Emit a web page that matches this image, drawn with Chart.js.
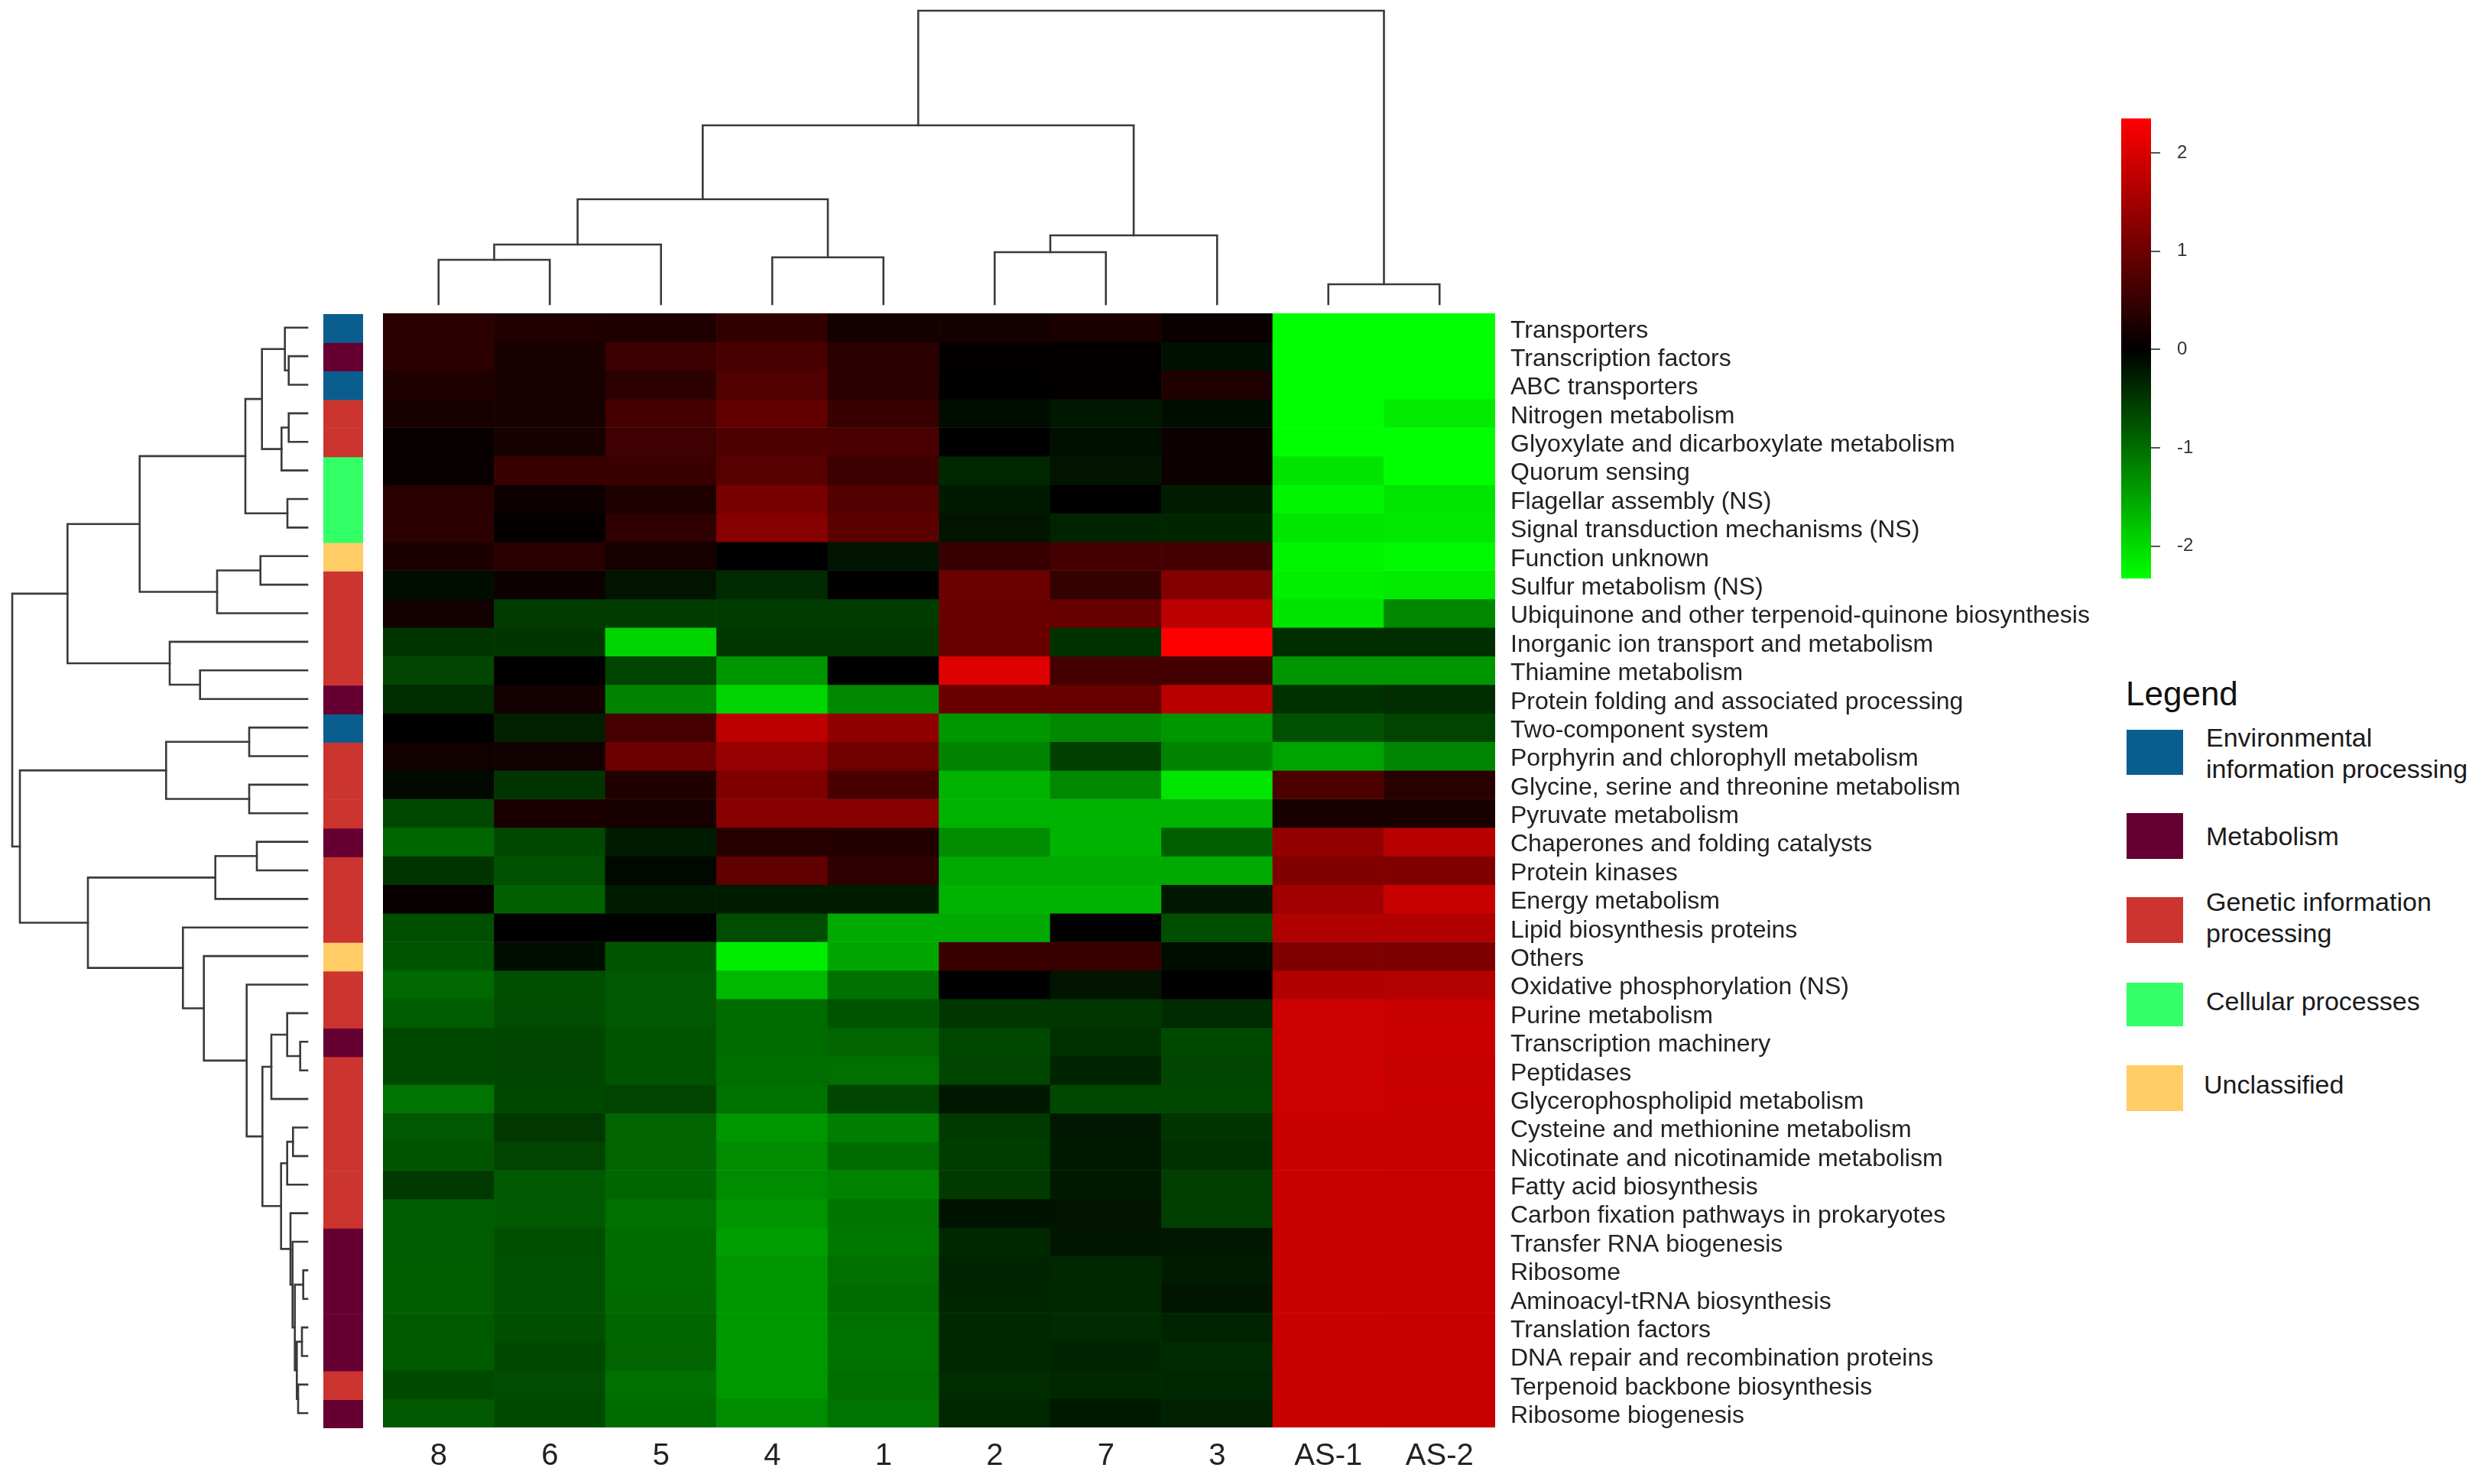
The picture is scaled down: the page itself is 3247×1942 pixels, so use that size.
<!DOCTYPE html>
<html>
<head>
<meta charset="utf-8">
<script src="https://cdn.jsdelivr.net/npm/chart.js@4.4.1/dist/chart.umd.min.js"></script>
<style>
html,body{margin:0;padding:0;background:#fff;}
body{width:3247px;height:1942px;position:relative;overflow:hidden;font-family:"Liberation Sans",Arial,sans-serif;}
canvas{position:absolute;}
.sq{position:absolute;left:2782px;width:74px;}
.lt{position:absolute;left:2886px;font-size:34px;color:#1a1a1a;white-space:nowrap;line-height:41px;}
</style>
</head>
<body>
<canvas id="topDendro" width="1455" height="400" style="left:501px;top:0px"></canvas>
<canvas id="leftDendro" width="404" height="1458" style="left:0px;top:410px"></canvas>
<canvas id="strip" width="52" height="1458" style="left:423px;top:411px"></canvas>
<canvas id="heat" width="2260" height="1532" style="left:501px;top:410px"></canvas>
<canvas id="cbar" width="140" height="640" style="left:2775px;top:140px"></canvas>
<div id="legend"></div>
<script>
// ---------------- data ----------------
const columnLabels = ['8','6','5','4','1','2','7','3','AS-1','AS-2'];
const rowLabels = [
  'Transporters','Transcription factors','ABC transporters','Nitrogen metabolism',
  'Glyoxylate and dicarboxylate metabolism','Quorum sensing','Flagellar assembly (NS)',
  'Signal transduction mechanisms (NS)','Function unknown','Sulfur metabolism (NS)',
  'Ubiquinone and other terpenoid-quinone biosynthesis','Inorganic ion transport and metabolism',
  'Thiamine metabolism','Protein folding and associated processing','Two-component system',
  'Porphyrin and chlorophyll metabolism','Glycine, serine and threonine metabolism',
  'Pyruvate metabolism','Chaperones and folding catalysts','Protein kinases','Energy metabolism',
  'Lipid biosynthesis proteins','Others','Oxidative phosphorylation (NS)','Purine metabolism',
  'Transcription machinery','Peptidases','Glycerophospholipid metabolism',
  'Cysteine and methionine metabolism','Nicotinate and nicotinamide metabolism',
  'Fatty acid biosynthesis','Carbon fixation pathways in prokaryotes','Transfer RNA biogenesis',
  'Ribosome','Aminoacyl-tRNA biosynthesis','Translation factors',
  'DNA repair and recombination proteins','Terpenoid backbone biosynthesis','Ribosome biogenesis'
];
const categoryNames = ['Environmental\ninformation processing','Metabolism','Genetic information\nprocessing','Cellular processes','Unclassified'];
const categoryColors = ['#0A5E8F','#660033','#CC3430','#33FF66','#FFCC66'];
const rowCategory = [0,1,0,2,2,3,3,3,4,2,2,2,2,1,0,2,2,2,1,2,2,2,4,2,2,1,2,2,2,2,2,2,1,1,1,1,1,2,1];

// z-scores, columns in order of columnLabels
const zScores = [
  [ 0.38, 0.29, 0.27, 0.47, 0.18, 0.18, 0.24, 0.09,-2.33,-2.33],
  [ 0.38, 0.22, 0.55, 0.66, 0.38, 0.05, 0.05,-0.15,-2.33,-2.33],
  [ 0.27, 0.22, 0.40, 0.75, 0.38, 0.00, 0.05, 0.27,-2.33,-2.33],
  [ 0.22, 0.22, 0.62, 0.90, 0.51,-0.11,-0.22,-0.13,-2.33,-2.15],
  [ 0.07, 0.20, 0.57, 0.69, 0.68, 0.00,-0.15, 0.11,-2.33,-2.33],
  [ 0.07, 0.53, 0.53, 0.79, 0.55,-0.37,-0.18, 0.11,-2.08,-2.33],
  [ 0.38, 0.11, 0.27, 1.11, 0.75,-0.24, 0.00,-0.26,-2.24,-2.10],
  [ 0.38, 0.04, 0.42, 1.22, 0.82,-0.18,-0.33,-0.35,-2.10,-2.12],
  [ 0.26, 0.37, 0.20, 0.00,-0.18, 0.51, 0.62, 0.62,-2.24,-2.28],
  [-0.11, 0.11,-0.18,-0.38, 0.00, 0.97, 0.48, 1.19,-2.19,-2.15],
  [ 0.16,-0.55,-0.55,-0.55,-0.55, 0.95, 0.93, 1.70,-2.08,-1.24],
  [-0.48,-0.48,-1.94,-0.49,-0.49, 0.95,-0.46, 2.33,-0.42,-0.42],
  [-0.64, 0.00,-0.64,-1.37, 0.00, 2.01, 0.62, 0.60,-1.37,-1.37],
  [-0.40, 0.18,-1.21,-1.94,-1.24, 0.95, 0.95, 1.68,-0.46,-0.40],
  [ 0.00,-0.29, 0.64, 1.72, 1.32,-1.37,-1.24,-1.37,-0.73,-0.62],
  [ 0.15, 0.15, 0.99, 1.37, 1.02,-1.21,-0.58,-1.21,-1.50,-1.22],
  [-0.07,-0.48, 0.29, 1.17, 0.68,-1.64,-1.24,-2.10, 0.69, 0.37],
  [-0.66, 0.24, 0.20, 1.24, 1.24,-1.64,-1.64,-1.64, 0.22, 0.22],
  [-0.93,-0.66,-0.26, 0.35, 0.31,-1.28,-1.64,-0.88, 1.35, 1.68],
  [-0.48,-0.73,-0.07, 0.88, 0.42,-1.55,-1.55,-1.55, 1.17, 1.17],
  [ 0.07,-0.88,-0.26,-0.26,-0.26,-1.64,-1.64,-0.22, 1.46, 1.83],
  [-0.71, 0.00, 0.00,-0.69,-1.55,-1.55, 0.00,-0.71, 1.61, 1.61],
  [-0.79,-0.13,-0.79,-2.17,-1.52, 0.53, 0.51,-0.13, 1.17, 1.13],
  [-0.95,-0.71,-0.80,-1.68,-1.02, 0.00,-0.18, 0.00, 1.61, 1.64],
  [-0.84,-0.69,-0.80,-0.99,-0.77,-0.49,-0.49,-0.38, 1.86, 1.83],
  [-0.66,-0.64,-0.77,-0.99,-0.91,-0.66,-0.44,-0.68, 1.86, 1.85],
  [-0.66,-0.64,-0.77,-1.01,-1.02,-0.64,-0.33,-0.64, 1.86, 1.81],
  [-1.06,-0.66,-0.62,-1.04,-0.64,-0.22,-0.66,-0.66, 1.86, 1.85],
  [-0.80,-0.51,-0.91,-1.37,-1.15,-0.53,-0.22,-0.48, 1.83, 1.81],
  [-0.77,-0.62,-0.91,-1.28,-0.99,-0.57,-0.24,-0.44, 1.83, 1.81],
  [-0.53,-0.80,-0.93,-1.28,-1.21,-0.53,-0.24,-0.58, 1.83, 1.81],
  [-0.84,-0.80,-1.02,-1.35,-1.08,-0.16,-0.18,-0.58, 1.83, 1.81],
  [-0.84,-0.71,-0.99,-1.44,-1.10,-0.37,-0.20,-0.22, 1.83, 1.81],
  [-0.86,-0.73,-0.99,-1.37,-1.02,-0.33,-0.37,-0.26, 1.83, 1.81],
  [-0.86,-0.73,-0.97,-1.37,-0.99,-0.35,-0.37,-0.20, 1.83, 1.81],
  [-0.82,-0.71,-0.93,-1.39,-1.04,-0.37,-0.38,-0.33, 1.83, 1.81],
  [-0.82,-0.66,-0.91,-1.39,-1.04,-0.37,-0.33,-0.38, 1.83, 1.81],
  [-0.68,-0.69,-1.02,-1.39,-1.01,-0.40,-0.37,-0.37, 1.83, 1.81],
  [-0.80,-0.68,-0.99,-1.28,-1.06,-0.37,-0.24,-0.31, 1.83, 1.81]
];

// dendrogram merges: [childA, childB, height]; children < nLeaves are leaves, else node (nLeaves + merge index)
const columnMerges = [
  [0,1,1.45],[10,2,1.95],[3,4,1.53],[11,12,3.43],[5,6,1.70],[14,7,2.25],[13,15,5.85],[8,9,0.65],[16,17,9.6]
];
const rowMerges = [
  [1,2,2.43],[0,39,2.93],[3,4,2.43],[41,5,3.37],[40,42,5.93],[6,7,2.60],[43,44,8.10],
  [8,9,6.13],[46,10,11.8],[45,47,21.93],[12,13,14.03],[11,49,18.0],[48,50,31.37],
  [14,15,7.6],[16,17,7.6],[52,53,18.47],[18,19,6.6],[55,20,12.03],
  [25,26,0.93],[24,57,2.63],[58,27,4.7],[28,29,1.87],[60,30,2.63],
  [33,34,0.53],[35,36,0.70],[37,38,1.20],[63,64,1.37],[62,65,1.63],[32,66,1.93],[31,67,2.20],
  [61,68,3.43],[59,69,5.87],[23,70,7.93],[22,71,13.53],[21,72,16.27],[56,73,28.7],[54,74,37.6],[51,75,38.6]
];
const colorbarTicks = [2,1,0,-1,-2];
const colorMin = -2.33, colorMax = 2.35, colorSat = 2.33;

// ---------------- helpers ----------------
const FONT = '"Liberation Sans", Arial, sans-serif';
Chart.defaults.font.family = FONT;
function zColor(v){
  const c = Math.round(Math.min(1, Math.abs(v)/colorSat)*255);
  return v >= 0 ? `rgb(${c},0,0)` : `rgb(0,${c},0)`;
}
function dendroSegments(merges, nLeaves){
  const pos = [], ht = [];
  for (let i=0;i<nLeaves;i++){ pos.push(i+0.5); ht.push(0); }
  const segs = [];
  merges.forEach(([a,b,h]) => {
    segs.push([[pos[a],ht[a]],[pos[a],h],[pos[b],h],[pos[b],ht[b]]]);
    pos.push((pos[a]+pos[b])/2); ht.push(h);
  });
  return segs;
}
const lineStyle = {borderColor:'#3a3a3a', borderWidth:2.6, pointRadius:0, tension:0, fill:false,
  borderJoinStyle:'miter', borderCapStyle:'square', clip:false, spanGaps:false};
const noPlugins = {legend:{display:false}, tooltip:{enabled:false}};
const base = {responsive:false, animation:false, devicePixelRatio:1, events:[]};

// ---------------- top dendrogram ----------------
const topSegs = dendroSegments(columnMerges, columnLabels.length);
const topRoot = columnMerges[columnMerges.length-1][2];
new Chart(document.getElementById('topDendro'), {
  type:'line',
  data:{datasets: topSegs.map(s => Object.assign({data: s.map(p => ({x:p[0], y:p[1]}))}, lineStyle))},
  options:Object.assign({}, base, {
    layout:{padding:{top:14, bottom:2, left:0, right:0}},
    plugins:noPlugins,
    scales:{
      x:{type:'linear', min:0, max:columnLabels.length, display:false},
      y:{type:'linear', min:0, max:topRoot, display:false}
    }
  })
});

// ---------------- left dendrogram ----------------
const leftSegs = dendroSegments(rowMerges, rowLabels.length);
const leftRoot = rowMerges[rowMerges.length-1][2];
new Chart(document.getElementById('leftDendro'), {
  type:'line',
  data:{datasets: leftSegs.map(s => Object.assign({data: s.map(p => ({x:p[1], y:p[0]}))}, lineStyle))},
  options:Object.assign({}, base, {
    layout:{padding:{top:0, bottom:0, left:16, right:2}},
    plugins:noPlugins,
    scales:{
      x:{type:'linear', min:0, max:leftRoot, reverse:true, display:false},
      y:{type:'linear', min:0, max:rowLabels.length, reverse:true, display:false}
    }
  })
});

// ---------------- category strip ----------------
new Chart(document.getElementById('strip'), {
  type:'bar',
  data:{labels:['cat'], datasets: rowLabels.map((name, r) => ({
    label:name, data:[[r, r+1]], backgroundColor:categoryColors[rowCategory[r]],
    borderWidth:0, grouped:false, barPercentage:1, categoryPercentage:1
  }))},
  options:Object.assign({}, base, {
    plugins:noPlugins,
    scales:{
      x:{type:'category', display:false},
      y:{type:'linear', min:0, max:rowLabels.length, reverse:true, display:false}
    }
  })
});

// ---------------- heatmap ----------------
new Chart(document.getElementById('heat'), {
  type:'bar',
  data:{labels:columnLabels, datasets: rowLabels.map((name, r) => ({
    label:name,
    data: columnLabels.map(() => [r, r+1]),
    backgroundColor: zScores[r].map(zColor),
    borderWidth:0, grouped:false, barPercentage:1, categoryPercentage:1
  }))},
  options:Object.assign({}, base, {
    plugins:noPlugins,
    layout:{padding:0},
    scales:{
      x:{type:'category', offset:true,
        grid:{display:false, drawTicks:false}, border:{display:false},
        ticks:{font:{size:40, family:FONT}, color:'#222', padding:14, maxRotation:0, autoSkip:false},
        afterFit:s => { s.height = 74; s.paddingLeft = 0; s.paddingRight = 0; }
      },
      y:{type:'linear', position:'right', min:0, max:rowLabels.length, reverse:true,
        grid:{display:false, drawTicks:false}, border:{display:false},
        afterBuildTicks:s => { s.ticks = rowLabels.map((_, i) => ({value:i+0.5})); },
        ticks:{autoSkip:false, font:{size:32, family:FONT}, color:'#222', padding:20, labelOffset:4,
          callback:(v, i) => rowLabels[i]},
        afterFit:s => { s.width = 805; s.paddingTop = 0; s.paddingBottom = 0; }
      }
    }
  })
});

// ---------------- colour key ----------------
new Chart(document.getElementById('cbar'), {
  type:'bar',
  data:{labels:['key'], datasets:[{
    data:[[colorMin, colorMax]], borderWidth:0, barPercentage:1, categoryPercentage:1,
    backgroundColor:(ctx) => {
      const ch = ctx.chart, ys = ch.scales.y;
      if (!ch.chartArea || !ys) return '#000';
      const g = ch.ctx.createLinearGradient(0, ys.getPixelForValue(colorMax), 0, ys.getPixelForValue(colorMin));
      g.addColorStop(0, zColor(colorMax));
      g.addColorStop(colorMax/(colorMax-colorMin), '#000');
      g.addColorStop(1, zColor(colorMin));
      return g;
    }
  }]},
  options:Object.assign({}, base, {
    plugins:noPlugins,
    layout:{padding:{top:15, bottom:23, left:0, right:0}},
    scales:{
      x:{type:'category', display:false},
      y:{type:'linear', position:'right', min:colorMin, max:colorMax,
        afterBuildTicks:s => { s.ticks = colorbarTicks.map(v => ({value:v})); },
        grid:{drawOnChartArea:false, drawTicks:true, tickLength:12, color:'#555', lineWidth:2},
        border:{display:false},
        ticks:{font:{size:24, family:FONT}, color:'#333', padding:22, crossAlign:'near'},
        afterFit:s => { s.width = 101; s.paddingTop = 0; s.paddingBottom = 0; }
      }
    }
  })
});

// ---------------- legend (category colours) ----------------
const lg = document.getElementById('legend');
const legTitle = document.createElement('div');
legTitle.textContent = 'Legend';
legTitle.style.cssText = 'position:absolute;left:2781px;top:886px;font-size:44px;line-height:44px;color:#111;';
lg.appendChild(legTitle);
const sqTops = [955, 1064, 1174, 1286, 1394];
const sqHeights = [59, 60, 60, 57, 60];
const txtTops = [945, 1074, 1160, 1290, 1399];
categoryNames.forEach((name, i) => {
  const sq = document.createElement('div');
  sq.className = 'sq';
  sq.style.top = sqTops[i] + 'px';
  sq.style.height = sqHeights[i] + 'px';
  sq.style.background = categoryColors[i];
  lg.appendChild(sq);
  const t = document.createElement('div');
  t.className = 'lt';
  t.style.top = txtTops[i] + 'px';
  if (i === 4) t.style.left = '2883px';
  t.innerHTML = name.split('\n').join('<br>');
  lg.appendChild(t);
});
</script>
</body>
</html>
